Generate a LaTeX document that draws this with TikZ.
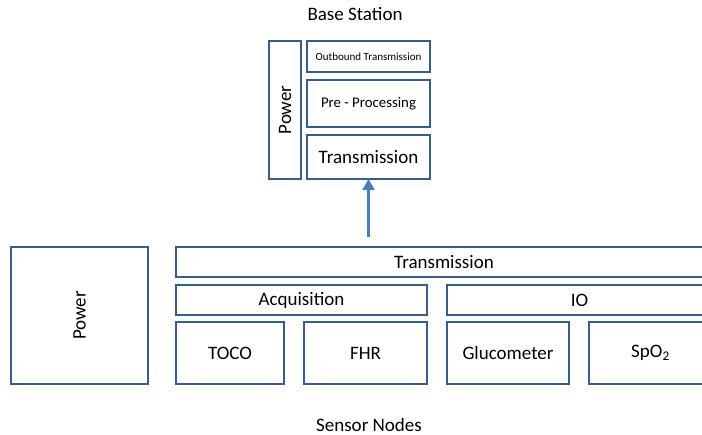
\documentclass[tikz,border=0pt]{standalone}
\usepackage{fontspec}
\setmainfont{Carlito}
\usetikzlibrary{positioning,arrows.meta}

\definecolor{blkline}{RGB}{56,93,138}
\definecolor{arrline}{RGB}{74,126,187}

\tikzset{
  blk/.style={draw=blkline,line width=1.5pt,inner sep=0pt,outer sep=0pt,anchor=north west},
  big/.style={font=\fontsize{19}{21}\selectfont},
  arr/.style={draw=arrline,line width=2.4pt,-{Triangle[width=12pt,length=11pt]}}
}

\begin{document}
\begin{tikzpicture}[x=1pt,y=-1pt]
	\clip (0,0) rectangle (702,435);
	% base station
	\node[big] (bs) at (355,14) {Base Station};
	\node[blk,minimum width=123pt,minimum height=31pt,font=\fontsize{11}{13}\selectfont] (outb) at (307,41) {Outbound Transmission};
	\node[blk,minimum width=123pt,minimum height=47pt,font=\fontsize{14.8}{16}\selectfont] (prep) [below=8pt of outb] {Pre - Processing};
	\node[blk,big,minimum width=123pt,minimum height=44pt] (transb) [below=8pt of prep] {Transmission};
	\node[blk,big,minimum width=32pt,minimum height=138pt] (powb) [below left=0pt and 6pt of outb.north west] {\rotatebox{90}{Power}};
	
	% sensor nodes
	\node[blk,big,minimum width=137pt,minimum height=137pt] (pows) at (11,247) {\rotatebox{90}{Power}};
	\node[blk,big,minimum width=536pt,minimum height=30pt] (transw) [right=28pt of pows.north east,anchor=north west] {Transmission};
	\node[blk,big,minimum width=251pt,minimum height=30pt] (acq) [below=8pt of transw.south west,anchor=north west] {Acquisition};
	\node[blk,big,minimum width=265pt,minimum height=30pt] (io) [right=20pt of acq] {IO};
	\node[blk,big,minimum width=108pt,minimum height=62pt] (toco) [below=7pt of acq.south west,anchor=north west] {TOCO};
	\node[blk,big,minimum width=123pt,minimum height=62pt] (fhr) [right=20pt of toco] {FHR};
	\node[blk,big,minimum width=122pt,minimum height=62pt] (gluco) [right=20pt of fhr] {Glucometer};
	\node[blk,big,minimum width=123pt,minimum height=62pt] (spo) [right=20pt of gluco] {SpO\textsubscript{2}};
	\node[big] (sn) at (369,425) {Sensor Nodes};
	
	\draw[arr,shorten <=10pt] (transw.north -| transb.south) -- (transb.south);
\end{tikzpicture}
\end{document}
